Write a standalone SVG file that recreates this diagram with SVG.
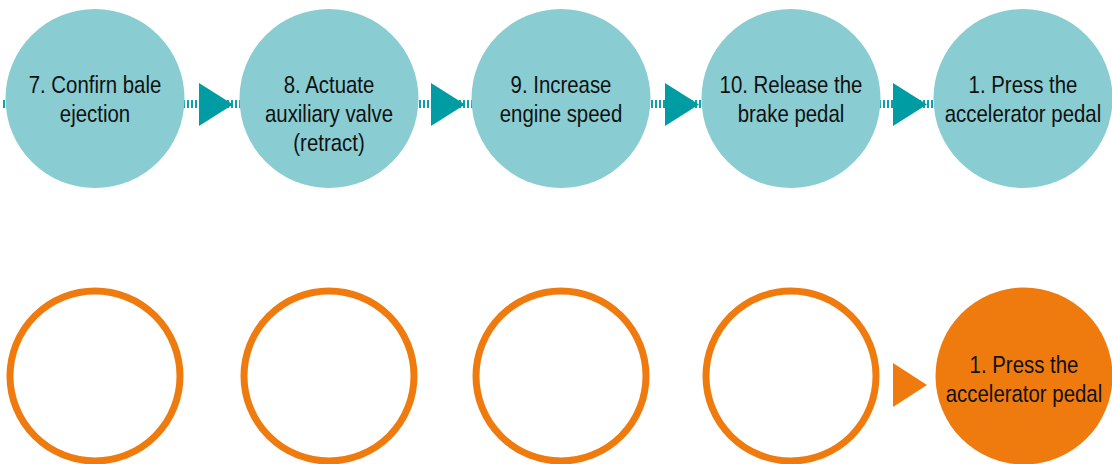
<svg xmlns="http://www.w3.org/2000/svg" width="1112" height="464" viewBox="0 0 1112 464">
<style>
.top{fill:#89CDD2;}
.ring{fill:#FFFFFF;stroke:#EF7B0F;stroke-width:7;}
.fill{fill:#EF7B0F;}
.tri{fill:#009CA4;}
.otri{fill:#EF7B0F;}
.dash{stroke:#12A0A8;stroke-width:8;stroke-dasharray:2 2;fill:none;}
text{font-family:"Liberation Sans",Arial,sans-serif;font-size:24px;fill:#111111;text-anchor:middle;}
</style>
<rect width="1112" height="464" fill="#FFFFFF"/>
<g id="connectors">
<line class="dash" x1="3" y1="104" x2="1023" y2="104"/>
</g>
<g id="node-7">
<circle class="top" cx="95" cy="98.5" r="89.5"/>
<text transform="translate(95,93) scale(0.85,1)">7. Confirn bale</text>
<text transform="translate(95,122) scale(0.85,1)">ejection</text>
</g>
<g id="node-8">
<circle class="top" cx="329" cy="98.5" r="89.5"/>
<text transform="translate(329,93) scale(0.85,1)">8. Actuate</text>
<text transform="translate(329,122) scale(0.85,1)">auxiliary valve</text>
<text transform="translate(329,151) scale(0.85,1)">(retract)</text>
</g>
<g id="node-9">
<circle class="top" cx="561" cy="98.5" r="89.5"/>
<text transform="translate(561,93) scale(0.85,1)">9. Increase</text>
<text transform="translate(561,122) scale(0.85,1)">engine speed</text>
</g>
<g id="node-10">
<circle class="top" cx="791" cy="98.5" r="89.5"/>
<text transform="translate(791,93) scale(0.85,1)">10. Release the</text>
<text transform="translate(791,122) scale(0.85,1)">brake pedal</text>
</g>
<g id="node-1-top">
<circle class="top" cx="1023" cy="98.5" r="89.5"/>
<text transform="translate(1023,93) scale(0.85,1)">1. Press the</text>
<text transform="translate(1023,122) scale(0.85,1)">accelerator pedal</text>
</g>
<g id="arrows-top">
<polygon class="tri" points="199,83 233,104.5 199,126"/>
<polygon class="tri" points="431,83 465,104.5 431,126"/>
<polygon class="tri" points="665,83 699,104.5 665,126"/>
<polygon class="tri" points="893,83 927,104.5 893,126"/>
</g>
<g id="ring-1"><circle class="ring" cx="95" cy="376" r="85"/></g>
<g id="ring-2"><circle class="ring" cx="329" cy="376" r="85"/></g>
<g id="ring-3"><circle class="ring" cx="561" cy="376" r="85"/></g>
<g id="ring-4"><circle class="ring" cx="791" cy="376" r="85"/></g>
<g id="arrow-bottom">
<polygon class="otri" points="893,363 927,385 893,407"/>
</g>
<g id="node-1-bottom">
<circle class="fill" cx="1024" cy="376" r="88.5"/>
<text transform="translate(1024,373) scale(0.85,1)">1. Press the</text>
<text transform="translate(1024,402) scale(0.85,1)">accelerator pedal</text>
</g>
</svg>
